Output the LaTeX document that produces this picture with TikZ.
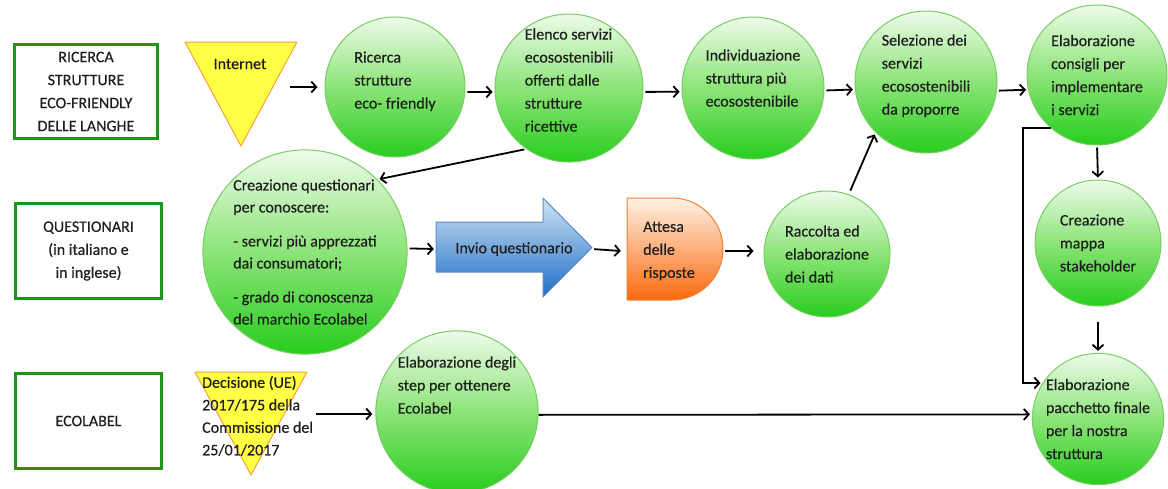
\documentclass[tikz,border=0pt]{standalone}
\usepackage{fontspec}
\setmainfont{Carlito}
\newfontfamily\diagfont{Carlito}[FakeBold=0.4]
\usetikzlibrary{arrows.meta}

\definecolor{boxgreen}{RGB}{30,150,30}
\definecolor{ctop}{RGB}{238,251,234}
\definecolor{cmid}{RGB}{140,228,120}
\definecolor{cbot}{RGB}{40,205,30}
\definecolor{cborder}{RGB}{120,205,100}
\definecolor{triyellow}{RGB}{255,255,70}
\definecolor{triorange}{RGB}{245,160,60}
\definecolor{atop}{RGB}{206,228,242}
\definecolor{abot}{RGB}{30,108,200}
\definecolor{aborder}{RGB}{95,140,190}
\definecolor{otop}{RGB}{255,242,228}
\definecolor{obot}{RGB}{250,105,15}
\definecolor{oborder}{RGB}{242,130,50}
\definecolor{ink}{RGB}{30,30,30}

\tikzset{
  txt/.style={font=\diagfont\fontsize{16}{23}\selectfont, text=ink},
  labelbox/.style={txt, draw=boxgreen, line width=3.4pt, align=center, inner sep=0pt},
  stage/.style={txt, circle, draw=cborder, line width=1pt, top color=ctop,
    bottom color=cbot, middle color=cmid, align=left, inner sep=0pt},
  source/.style={fill=triyellow, draw=triorange, line width=1pt, line join=round},
  arr/.style={-{Straight Barb[length=5pt,width=11pt]}, line width=1.8pt,
    shorten >=2pt, shorten <=2pt}
}

\begin{document}
\begin{tikzpicture}[x=1pt,y=-1pt]
\useasboundingbox (0,0) rectangle (1168,488);

% row labels
\node[labelbox, minimum width=143pt, minimum height=94pt] (b1) at (86,91.5)
  {RICERCA\\STRUTTURE\\ECO-FRIENDLY\\DELLE LANGHE};
\node[labelbox, minimum width=146pt, minimum height=95pt] (b2) at (88.5,251)
  {QUESTIONARI\\(in italiano e\\in inglese)};
\node[labelbox, minimum width=146pt, minimum height=95pt] (b3) at (88.5,421)
  {ECOLABEL};

% sources (inverted triangles)
\draw[source] (185,42) -- (297,42) -- (241,146) -- cycle;
\node[txt, inner sep=0pt] (inet) at (240,64) {Internet};
\coordinate (inetout) at (288,87);

\draw[source] (195,372) -- (307,372) -- (251,475) -- cycle;
\node[txt, align=left, inner sep=0pt, anchor=west,
  font=\diagfont\fontsize{16}{22.5}\selectfont] (dec) at (202,416)
  {Decisione (UE)\\2017/175 della\\Commissione del\\25/01/2017};
\coordinate (decout) at (314,414);

% process stages
\node[stage, minimum size=140pt, text depth=14pt] (c1) at (395,87)
  {Ricerca\\strutture\\eco- friendly};
\node[stage, minimum size=144pt, text depth=16pt] (c2) at (569,88)
  {Elenco servizi\\ecosostenibili\\offerti dalle\\strutture\\ricettive};
\node[stage, minimum size=142pt, text depth=20pt] (c3) at (753,88)
  {Individuazione\\struttura più\\ecosostenibile};
\node[stage, minimum size=142pt, text depth=15pt] (c4) at (926,82)
  {Selezione dei\\servizi\\ecosostenibili\\da proporre};
\node[stage, minimum size=140pt] (c5) at (1097,75)
  {Elaborazione\\consigli per\\implementare\\i servizi};
\node[stage, minimum size=204pt, font=\diagfont\fontsize{16}{22}\selectfont] (c6) at (305,252)
  {Creazione questionari\\per conoscere:\\[12pt]- servizi più apprezzati\\dai consumatori;\\[12pt]- grado di conoscenza\\del marchio Ecolabel};
\node[stage, minimum size=126pt] (c7) at (827,254)
  {Raccolta ed\\elaborazione\\dei dati};
\node[stage, minimum size=126pt] (c8) at (1098,243)
  {Creazione\\mappa\\stakeholder};
\node[stage, minimum size=130pt] (c9) at (1098,419)
  {Elaborazione\\pacchetto finale\\per la nostra\\struttura};
\node[stage, minimum size=150pt, text depth=54pt] (c10) at (457,412)
  {Elaborazione degli\\step per ottenere\\Ecolabel};

% block arrow: sending the questionnaire
\shadedraw[top color=atop, bottom color=abot, draw=aborder, line width=1pt, line join=round]
  (436,222) -- (543,222) -- (543,198) -- (592,247.5) -- (543,297) -- (543,272) -- (436,272) -- cycle;
\node[txt, minimum width=156pt, minimum height=50pt, inner sep=0pt] (inv) at (514,249)
  {Invio questionario};

% delay shape: waiting for answers
\shadedraw[top color=otop, bottom color=obot, draw=oborder, line width=1pt]
  (627,198) -- (672,198) arc[start angle=-90, end angle=90, radius=51] -- (627,300) -- cycle;
\node[txt, align=left, minimum width=96pt, minimum height=102pt, inner sep=0pt] (att) at (669,251)
  {Attesa\\delle\\risposte};

% connectors
\draw[arr, shorten >=7pt] (inetout) -- (c1.west);
\draw[arr] (c1.-4) -- (c2.183);
\draw[arr] (c2.-3) -- (c3.183);
\draw[arr] (c3.-2) -- (c4.186.5);
\draw[arr] (c4.-7) -- (c5.192);
\draw[arr] (c2.235) -- (c6.45);
\draw[arr] (c6.2) -- (inv.west);
\draw[arr, shorten >=0pt] (inv.east) -- (att.west);
\draw[arr, shorten <=8pt, shorten >=10pt] (att.east) -- (c7.west |- att.east);
\draw[arr, shorten <=4pt] (c7.70) -- (c4.225);
\draw[arr] (c5.south) -- (c8.north);
\draw[arr, shorten <=15pt] (c8.south) -- (c9.north);
\draw[arr, shorten <=0pt] (c5.229) -- ++(-28,0) |- (c9.147);
\draw[arr, shorten <=0pt] (c10.-2) -- (c9.176.5);
\draw[arr, shorten >=3pt] (decout) -- (c10.west |- decout);
\end{tikzpicture}
\end{document}
